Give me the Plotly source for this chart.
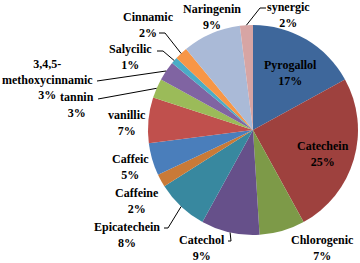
import math
import plotly.graph_objects as go

# ---- data ----
categories = ["Pyrogallol", "Catechein", "Chlorogenic", "Catechol", "Epicatechein",
              "Caffeine", "Caffeic", "vanillic", "tannin", "3,4,5-methoxycinnamic",
              "Salycilic", "Cinnamic", "Naringenin", "synergic"]
values = [17, 25, 7, 9, 8, 2, 5, 7, 3, 3, 1, 2, 9, 2]
colors = ["#3E679B", "#9E413E", "#7D9A48", "#66508A", "#38889F", "#C97A37", "#4A7EBB",
          "#C0504D", "#9BBB59", "#8064A2", "#4BACC6", "#F79646", "#AABAD7", "#D7A5A4"]

# ---- layout (pixels in a 360x263 canvas) ----
W, H = 360, 263
CX, CY, R = 253, 130, 105
label_pos = {
    "Pyrogallol": (290, 73), "Catechein": (323, 154), "Chlorogenic": (322, 248),
    "Catechol": (202, 248), "Epicatechein": (127, 235), "Caffeine": (137, 201),
    "Caffeic": (130, 167), "vanillic": (127, 123), "tannin": (77, 105),
    "3,4,5-methoxycinnamic": (47, 80), "Salycilic": (130, 57), "Cinnamic": (148, 25),
    "Naringenin": (212, 17), "synergic": (288, 15),
}
# leader line: label-side points (pixels); the slice end is computed from the data
leader_start = {
    "Cinnamic": [(159, 33), (165, 33)],
    "Salycilic": [(157, 51), (163, 51)],
    "3,4,5-methoxycinnamic": [(97, 81)],
    "tannin": [(98, 99)],
    "synergic": [(266, 8), (260, 8)],
    "Epicatechein": [(164, 228), (168, 228)],
    "Catechol": [(228, 241), (231, 241)],
}
FONT = "Liberation Serif"

fig = go.Figure(go.Pie(
    labels=categories, values=values, sort=False, direction="clockwise", rotation=0,
    marker=dict(colors=colors, line=dict(width=0)), textinfo="none", hoverinfo="label+percent",
    domain=dict(x=[(CX - R) / W, (CX + R) / W], y=[1 - (CY + R) / H, 1 - (CY - R) / H]),
    showlegend=False,
))

def px2paper(p):
    return p[0] / W, 1 - p[1] / H

total = sum(values)
cum = 0
annotations, shapes = [], []
for name, v in zip(categories, values):
    mid = (cum + v / 2) / total * 2 * math.pi
    cum += v
    disp = name.replace("3,4,5-", "3,4,5-<br>")
    pct = round(v / total * 100)
    x, y = px2paper(label_pos[name])
    annotations.append(dict(x=x, y=y, xref="paper", yref="paper", showarrow=False,
                            text=f"<b>{disp}<br>{pct}%</b>", xanchor="center", yanchor="middle",
                            font=dict(family=FONT, size=12, color="black")))
    if name in leader_start:
        end = (CX + R * math.sin(mid), CY - R * math.cos(mid))
        pts = leader_start[name] + [end]
        for a, b in zip(pts[:-1], pts[1:]):
            xa, ya = px2paper(a)
            xb, yb = px2paper(b)
            shapes.append(dict(type="line", xref="paper", yref="paper", x0=xa, y0=ya, x1=xb, y1=yb,
                               line=dict(color="black", width=1)))

fig.update_layout(width=W, height=H, margin=dict(l=0, r=0, t=0, b=0),
                  paper_bgcolor="white", plot_bgcolor="white",
                  font=dict(family=FONT),
                  annotations=annotations, shapes=shapes)
fig.write_html("out.html", config={"displayModeBar": False},
               post_script="document.body.style.margin='0';")
